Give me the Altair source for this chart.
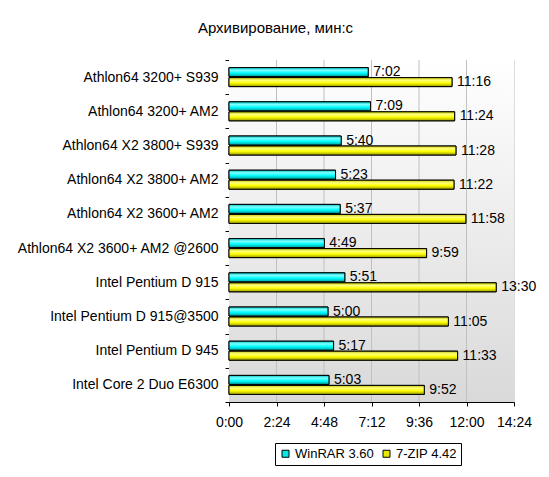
import altair as alt
import pandas as pd

cpus = ["Athlon64 3200+ S939", "Athlon64 3200+ AM2", "Athlon64 X2 3800+ S939",
        "Athlon64 X2 3800+ AM2", "Athlon64 X2 3600+ AM2", "Athlon64 X2 3600+ AM2 @2600",
        "Intel Pentium D 915", "Intel Pentium D 915@3500", "Intel Pentium D 945",
        "Intel Core 2 Duo E6300"]
series = ["WinRAR 3.60", "7-ZIP 4.42"]
winrar = [422, 429, 340, 323, 337, 289, 351, 300, 317, 303]   # seconds
zip7 = [676, 684, 688, 682, 718, 599, 810, 665, 693, 592]      # seconds
x_ticks = [0, 144, 288, 432, 576, 720, 864]

rows = []
for c, a, b in zip(cpus, winrar, zip7):
    rows.append(dict(cpu=c, series=series[0], sec=a))
    rows.append(dict(cpu=c, series=series[1], sec=b))
df = pd.DataFrame(rows)
df["label"] = df["sec"].map(lambda s: f"{s // 60}:{s % 60:02d}")

FONT = "Liberation Sans"
FS = 14
W, H = 285, 342

def grad(c_edge, c_light, c_mid, c_dark):
    return {"gradient": "linear", "x1": 0, "y1": 0, "x2": 0, "y2": 1,
            "stops": [{"offset": 0, "color": c_edge},
                      {"offset": 0.3, "color": c_light},
                      {"offset": 0.6, "color": c_mid},
                      {"offset": 1, "color": c_dark}]}

cyan_fill = grad("#00c4c4", "#7fffff", "#00ffff", "#009a9a")
yellow_fill = grad("#c4c400", "#ffff80", "#ffff00", "#9a9a00")
bg_fill = {"gradient": "linear", "x1": 0, "y1": 0, "x2": 0, "y2": 1,
           "stops": [{"offset": 0, "color": "#ffffff"}, {"offset": 1, "color": "#d9d9d9"}]}

x_scale = alt.Scale(domain=[0, 864], nice=False)
x_axis = alt.Axis(title=None, values=x_ticks,
                  labelExpr="floor(datum.value/60) + ':' + (datum.value % 60 < 10 ? '0' : '') + (datum.value % 60)",
                  grid=False, tickSize=4, labelPadding=9, labelOverlap=False, labelFlush=False,
                  domainColor="black", tickColor="black", labelColor="black",
                  labelFontSize=FS, labelFont=FONT)

y_enc = alt.Y("cpu:N", sort=cpus,
              scale=alt.Scale(paddingInner=0, paddingOuter=0),
              axis=alt.Axis(title=None, tickBand="extent", tickSize=4, labelPadding=7,
                            domainColor="black", tickColor="black", labelColor="black",
                            labelFontSize=FS, labelFont=FONT, grid=False, labelLimit=300))
yoff_enc = alt.YOffset("series:N", sort=series,
                       scale=alt.Scale(domain=series, paddingInner=0.1, paddingOuter=0.76))
x_enc = alt.X("sec:Q", scale=x_scale, axis=x_axis)

bg_layer = alt.Chart(pd.DataFrame({"x0": [x_ticks[0]], "x1": [x_ticks[-1]]})).mark_rect(
    fill=bg_fill).encode(x=alt.X("x0:Q", scale=x_scale, axis=x_axis), x2="x1:Q",
                         y=alt.value(0), y2=alt.value(H))
grid_layer = alt.Chart(pd.DataFrame({"t": x_ticks[1:-1]})).mark_rule(
    color="#c0c0c0", strokeWidth=1).encode(x=alt.X("t:Q", scale=x_scale, axis=x_axis))

base = alt.Chart(df).encode(y=y_enc, yOffset=yoff_enc, x=x_enc)

legend_layer = base.mark_bar(stroke="black", strokeWidth=1).encode(
    color=alt.Color("series:N", sort=series,
                    scale=alt.Scale(domain=series, range=["#00e8e8", "#e8e800"]),
                    legend=alt.Legend(title=None, orient="none", direction="horizontal",
                                      legendX=46, legendY=383, symbolType="square",
                                      symbolSize=49, symbolStrokeColor="black",
                                      symbolStrokeWidth=1, symbolOpacity=1,
                                      labelFontSize=13, labelFont=FONT, labelColor="black",
                                      strokeColor="black", fillColor="white",
                                      padding=4, columnPadding=6, labelOffset=3))
)
cyan_layer = base.transform_filter(alt.datum.series == series[0]).mark_bar(
    fill=cyan_fill, stroke="black", strokeWidth=1)
yellow_layer = base.transform_filter(alt.datum.series == series[1]).mark_bar(
    fill=yellow_fill, stroke="black", strokeWidth=1)
text_layer = base.mark_text(align="left", baseline="middle", dx=5, fontSize=FS,
                            font=FONT, color="black").encode(text="label:N")

chart = alt.layer(bg_layer, grid_layer, legend_layer, cyan_layer, yellow_layer,
                  text_layer).properties(
    width=W, height=H,
    title=alt.TitleParams("Архивирование, мин:с", anchor="middle", frame="group",
                          dx=-96, offset=17, fontSize=15, font=FONT,
                          fontWeight="normal", color="black"),
    autosize=alt.AutoSizeParams(type="none"),
    padding={"left": 221, "top": 52, "right": 27, "bottom": 67},
).configure_view(
    stroke="#808080",
).configure(background="white")

chart.save("out.html", embed_options={"renderer": "svg", "actions": False})
